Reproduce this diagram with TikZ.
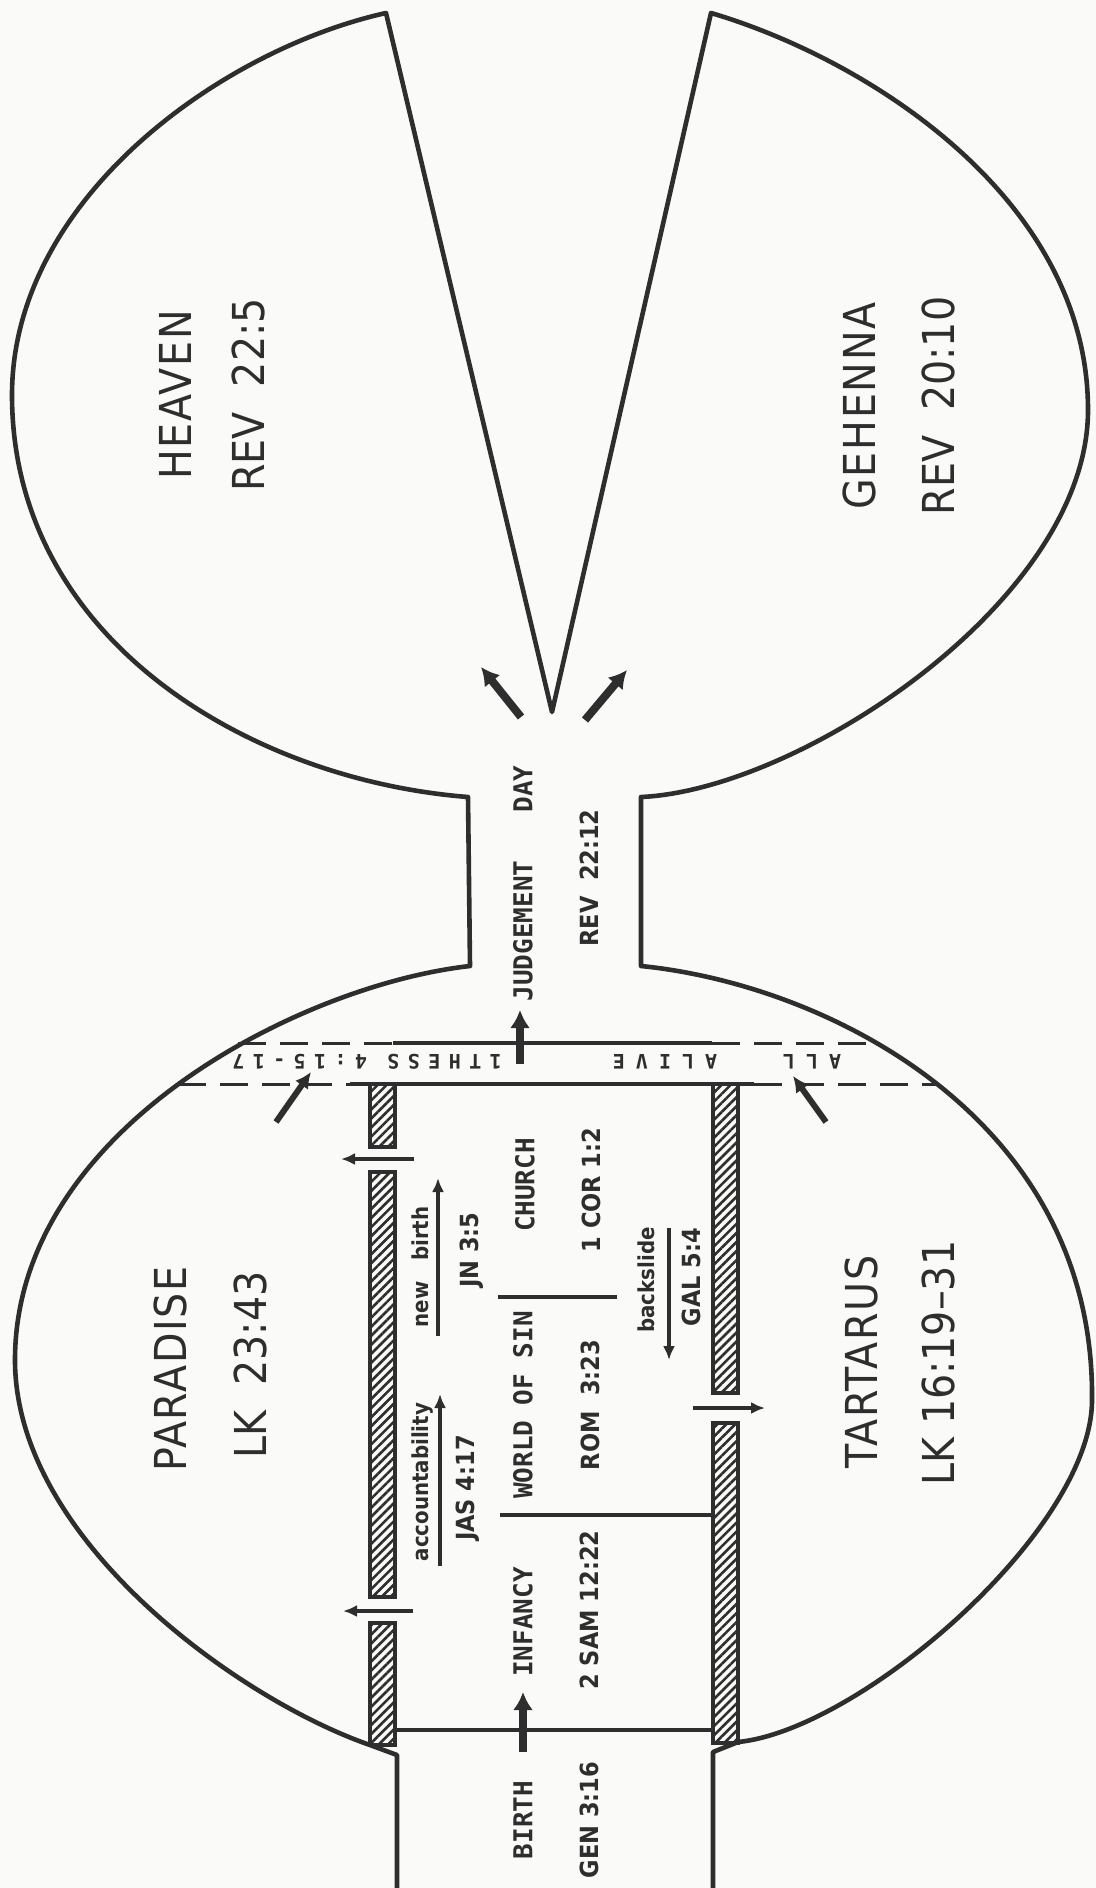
\documentclass[tikz,border=0pt]{standalone}
\usepackage{fontspec}
\setmainfont{DejaVu Sans}
\newfontfamily\dinfont{DejaVu Sans Condensed}
\newfontfamily\leroyfont{DejaVu Sans Mono}
\usepackage{tikz}
\usetikzlibrary{arrows.meta,patterns.meta}
\definecolor{ink}{HTML}{2E2E2E}
\definecolor{paper}{HTML}{FAFAF8}

\tikzset{
  wall/.style={draw=ink, line width=2.3pt, line join=round},
  divider/.style={draw=ink, line width=1.6pt},
  dashline/.style={draw=ink, line width=1.5pt, dash pattern=on 14pt off 7pt},
  hatchbar/.style={draw=ink, line width=1.6pt, pattern color=ink,
    pattern={Lines[angle=45,distance=3.2pt,line width=1.3pt]}},
  bigarrow/.style={draw=ink, line width=4pt, -{Latex[length=9pt,width=10pt]}},
  midarrow/.style={draw=ink, line width=3pt, -{Latex[length=8pt,width=8pt]}},
  thinarrow/.style={draw=ink, line width=1.7pt, -{Latex[length=7pt,width=6pt]}},
  realm/.style={rotate=90, inner sep=0pt, text=ink,
    font=\dinfont\fontsize{22}{26}\selectfont\addfontfeatures{LetterSpace=4}},
  realmref/.style={rotate=90, inner sep=0pt, text=ink,
    font=\dinfont\fontsize{22}{26}\selectfont},
  stage/.style={rotate=90, inner sep=0pt, text=ink,
    font=\leroyfont\bfseries\fontsize{13}{15}\selectfont},
  verse/.style={rotate=90, inner sep=0pt, text=ink,
    font=\dinfont\bfseries\fontsize{12.5}{15}\selectfont},
  motion/.style={rotate=90, inner sep=0pt, text=ink,
    font=\dinfont\bfseries\fontsize{11}{13}\selectfont},
  bandtxt/.style={rotate=180, inner sep=0pt, text=ink,
    font=\leroyfont\bfseries\fontsize{10}{12}\selectfont\addfontfeatures{LetterSpace=42}},
  bandwide/.style={rotate=180, inner sep=0pt, text=ink,
    font=\leroyfont\bfseries\fontsize{10}{12}\selectfont\addfontfeatures{LetterSpace=55}},
}

\begin{document}
\begin{tikzpicture}[x=0.5pt,y=-0.5pt]
  \fill[paper] (0,0) rectangle (1096,1888);
  \useasboundingbox (0,0) rectangle (1096,1888);

  % contour : paradis, col, ciel, gehenne, tartare
  \draw[wall] (397,1888) -- (397,1755) -- (370,1745)
    .. controls (240,1700) and (15,1540) .. (15,1360)
    .. controls (15,1130) and (300,985) .. (470,966)
    -- (468,797)
    .. controls (250,780) and (12,640) .. (12,395)
    .. controls (12,200) and (220,50) .. (386,13)
    -- (552,712) -- (711,13)
    .. controls (870,60) and (1088,200) .. (1088,410)
    .. controls (1088,600) and (800,790) .. (641,797)
    -- (641,966)
    .. controls (830,985) and (1095,1120) .. (1092,1400)
    .. controls (1092,1530) and (860,1730) .. (738,1742)
    -- (713,1752) -- (713,1888);

  % bande de l'enlevement
  \draw[dashline] (238,1043) -- (393,1043);
  \draw[divider] (393,1043) -- (712,1043);
  \draw[dashline] (712,1043) -- (878,1043);
  \draw[dashline] (178,1084) -- (350,1084);
  \draw[divider] (350,1084) -- (754,1084);
  \draw[dashline] (754,1084) -- (937,1084);

  % murs hachures
  \foreach \a/\b in {1084/1147, 1172/1597, 1623/1745}
    \draw[hatchbar] (370,\a) rectangle (395,\b);
  \foreach \a/\b in {1084/1393, 1423/1743}
    \draw[hatchbar] (713,\a) rectangle (738,\b);

  \draw[divider] (397,1730) -- (713,1730);
  \draw[divider] (500,1515) -- (713,1515);
  \draw[divider] (498,1297) -- (617,1297);

  % textes
  \node[realm] (heaven)          at (175,395)  {HEAVEN};
  \node[realmref] (heavenref)    at (248,395)  {REV\ \ 22:5};
  \node[realm] (gehenna)         at (859,406)  {GEHENNA};
  \node[realmref] (gehennaref)   at (938,406)  {REV\ \ 20:10};
  \node[realm] (paradise)        at (170,1369) {PARADISE};
  \node[realmref] (paradiseref)  at (250,1365) {LK\ \ 23:43};
  \node[realm] (tartarus)        at (861,1362) {TARTARUS};
  \node[realmref] (tartarusref)  at (938,1363) {LK\ 16:19–31};

  \node[stage] (judgement)    at (523,931)  {JUDGEMENT};
  \node[stage] (day)          at (523,789)  {DAY};
  \node[verse] (judgeref)     at (589,878)  {REV\ \ 22:12};
  \node[stage] (birth)        at (523,1820) {BIRTH};
  \node[verse] (birthref)     at (589,1820) {GEN 3:16};
  \node[stage] (infancy)      at (523,1622) {INFANCY};
  \node[verse] (infancyref)   at (589,1610) {2 SAM 12:22};
  \node[stage] (world)        at (523,1405) {WORLD OF SIN};
  \node[verse] (worldref)     at (590,1405) {ROM\ \ 3:23};
  \node[stage] (church)       at (525,1185) {CHURCH};
  \node[verse] (churchref)    at (591,1190) {1 COR 1:2};
  \node[motion] (account)     at (423,1482) {accountability};
  \node[verse] (accountref)   at (468,1488) {JAS 4:17};
  \node[motion] (newbirth)    at (420,1267) {new\ \ \ birth};
  \node[verse] (newbirthref)  at (472,1250) {JN 3:5};
  \node[motion] (backslide)   at (646,1280) {backslide};
  \node[verse] (backslideref) at (691,1277) {GAL 5:4};
  \node[bandtxt] (thess)      at (367,1062) {1THESS 4:15-17};
  \node[bandwide] (allnode)   at (812,1062) {ALL};
  \node[bandwide] (alive)     at (665,1062) {ALIVE};

  % fleches
  \coordinate (birthtail) at (523,1752);
  \coordinate (birthtip)  at (523,1692);
  \coordinate (judgetail) at (520,1064);
  \coordinate (judgetip)  at (520,1010);
  \coordinate (heaventail)  at (521,717);
  \coordinate (heaventip)   at (481,667);
  \coordinate (gehennatail) at (585,720);
  \coordinate (gehennatip)  at (627,670);
  \coordinate (risetail)  at (276,1122);
  \coordinate (risetip)   at (311,1072);
  \coordinate (sinktail)  at (826,1122);
  \coordinate (sinktip)   at (793,1076);
  \coordinate (deathA)    at (414,1159);
  \coordinate (paradA)    at (341,1159);
  \coordinate (deathB)    at (413,1611);
  \coordinate (paradB)    at (343,1611);
  \coordinate (deathC)    at (693,1408);
  \coordinate (tartC)     at (765,1408);
  \coordinate (accfrom)   at (440,1566);
  \coordinate (accto)     at (440,1394);
  \coordinate (nbfrom)    at (438,1336);
  \coordinate (nbto)      at (438,1178);
  \coordinate (bsfrom)    at (669,1228);
  \coordinate (bsto)      at (669,1360);

  \draw[bigarrow] (birthtail) -- (birthtip);
  \draw[bigarrow] (judgetail) -- (judgetip);
  \draw[bigarrow] (heaventail) -- (heaventip);
  \draw[bigarrow] (gehennatail) -- (gehennatip);
  \draw[midarrow] (risetail) -- (risetip);
  \draw[midarrow] (sinktail) -- (sinktip);
  \draw[thinarrow] (deathA) -- (paradA);
  \draw[thinarrow] (deathB) -- (paradB);
  \draw[thinarrow] (deathC) -- (tartC);
  \draw[thinarrow] (accfrom) -- (accto);
  \draw[thinarrow] (nbfrom) -- (nbto);
  \draw[thinarrow] (bsfrom) -- (bsto);
\end{tikzpicture}
\end{document}
